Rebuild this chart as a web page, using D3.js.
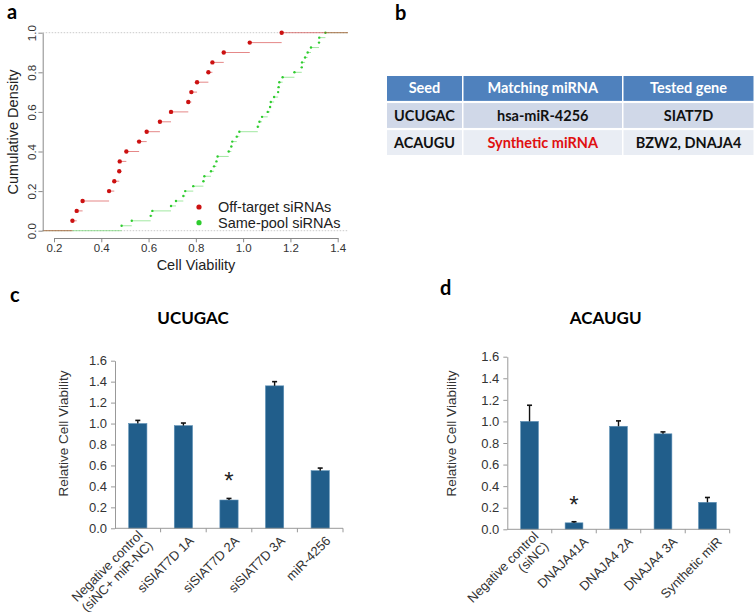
<!DOCTYPE html>
<html>
<head>
<meta charset="utf-8">
<title>Off-target siRNA viability</title>
<style>
  body { margin: 0; background: #fff; }
  text { font-family: "Liberation Sans", Arial, sans-serif; }
  .bold { font-family: Lato, "Open Sans", sans-serif; font-weight: 700; }
</style>
</head>
<body>
<script src="https://d3js.org/d3.v7.min.js"></script>
<script>

// panel a: cell viability of each siRNA (sorted, for the ECDF)
var offTarget = [0.278, 0.296, 0.321, 0.433, 0.455, 0.476, 0.478, 0.506, 0.560, 0.592,
                 0.648, 0.695, 0.768, 0.781, 0.805, 0.853, 0.870, 0.918, 1.028, 1.163];
var samePool = [0.486, 0.529, 0.609, 0.616, 0.695, 0.716, 0.747, 0.755, 0.789, 0.832,
                0.836, 0.864, 0.877, 0.887, 0.892, 0.939, 0.950, 0.954, 0.973, 0.984,
                1.062, 1.069, 1.080, 1.104, 1.114, 1.117, 1.131, 1.148, 1.150, 1.153,
                1.167, 1.217, 1.248, 1.249, 1.262, 1.273, 1.287, 1.321, 1.322, 1.348];
var xTicksA = [0.2, 0.4, 0.6, 0.8, 1.0, 1.2, 1.4];
var yTicksA = [0, 0.2, 0.4, 0.6, 0.8, 1.0];
var legendA = ["Off-target siRNAs", "Same-pool siRNAs"];

// panel b: table
var tableHeader = ["Seed", "Matching miRNA", "Tested gene"];
var tableRows = [
  ["UCUGAC", "hsa-miR-4256", "SIAT7D"],
  ["ACAUGU", "Synthetic miRNA", "BZW2, DNAJA4"]
];

// panel c
var cCats = ["Negative control|(siNC+ miR-NC)", "siSIAT7D 1A", "siSIAT7D 2A", "siSIAT7D 3A", "miR-4256"];
var cVals = [1.00, 0.98, 0.27, 1.36, 0.55];
var cErr  = [0.03, 0.025, 0.015, 0.04, 0.025];

// panel d
var dCats = ["Negative control|(siNC)", "DNAJA41A", "DNAJA4 2A", "DNAJA4 3A", "Synthetic miR"];
var dVals = [1.00, 0.06, 0.955, 0.885, 0.25];
var dErr  = [0.15, 0.01, 0.05, 0.018, 0.045];

var yTicksBar = [0, 0.2, 0.4, 0.6, 0.8, 1.0, 1.2, 1.4, 1.6];

var svg = d3.select("body").append("svg")
  .attr("width", 756).attr("height", 612);

// panel letters
function letter(t, x, y) {
  svg.append("text").attr("class", "bold").attr("x", x).attr("y", y)
    .attr("font-size", 20).attr("fill", "#000").text(t);
}
letter("a", 7, 19);
letter("b", 395, 20);
letter("c", 10, 302);
letter("d", 440, 295);

// ---------- panel a ----------
var gA = svg.append("g");
var xA = d3.scaleLinear().domain([0.2, 1.4]).range([54, 337.7]);
var yA = d3.scaleLinear().domain([0, 1]).range([230.7, 32.7]);
var xLo = xA.invert(42.7), xHi = xA.invert(348);

// dotted reference lines at 0 and 1
gA.selectAll(".ref").data([0, 1]).enter().append("line")
  .attr("x1", xA(xLo)).attr("x2", xA(xHi))
  .attr("y1", function(d) { return yA(d); }).attr("y2", function(d) { return yA(d); })
  .attr("stroke", "#bbb").attr("stroke-width", 0.8).attr("stroke-dasharray", "1.5,1.5");

function ecdf(vals, color, r, lw) {
  var n = vals.length;
  var segs = [{x0: xLo, x1: vals[0], y: 0}];
  vals.forEach(function(v, i) {
    segs.push({x0: v, x1: i < n - 1 ? vals[i + 1] : xHi, y: (i + 1) / n});
  });
  var g = gA.append("g");
  g.selectAll("line").data(segs).enter().append("line")
    .attr("x1", function(d) { return xA(d.x0); })
    .attr("x2", function(d) { return xA(d.x1); })
    .attr("y1", function(d) { return yA(d.y); })
    .attr("y2", function(d) { return yA(d.y); })
    .attr("stroke", color).attr("stroke-opacity", 0.5).attr("stroke-width", lw);
  g.selectAll("circle").data(vals).enter().append("circle")
    .attr("cx", function(d) { return xA(d); })
    .attr("cy", function(d, i) { return yA((i + 1) / n); })
    .attr("r", r).attr("fill", color);
}
ecdf(samePool, "#2ecc2e", 1.2, 0.9);
ecdf(offTarget, "#cc1111", 2.2, 1.0);

var axA = gA.append("g").attr("transform", "translate(0,238)")
  .call(d3.axisBottom(xA).tickValues(xTicksA).tickSize(4.3).tickPadding(2).tickSizeOuter(0)
    .tickFormat(d3.format(".1f")));
var ayA = gA.append("g").attr("transform", "translate(42.7,0)")
  .call(d3.axisLeft(yA).tickValues(yTicksA).tickSize(4.3).tickSizeOuter(0)
    .tickFormat(d3.format(".1f")));
[axA, ayA].forEach(function(a) {
  a.select(".domain").attr("stroke", "#888");
  a.selectAll(".tick line").attr("stroke", "#888");
  a.selectAll("text").attr("font-size", 11.5).attr("fill", "#333")
    .attr("font-family", "Liberation Sans, Arial, sans-serif");
});
ayA.selectAll("text").attr("transform", "rotate(-90)")
  .attr("x", 0).attr("y", -7).attr("dy", 0).attr("text-anchor", "middle");

gA.append("text").attr("transform", "translate(18,132) rotate(-90)")
  .attr("text-anchor", "middle").attr("font-size", 14.5).attr("fill", "#222")
  .text("Cumulative Density");
gA.append("text").attr("x", 196).attr("y", 270).attr("text-anchor", "middle")
  .attr("font-size", 14.5).attr("fill", "#222").text("Cell Viability");

var legColors = ["#cc1111", "#2ecc2e"];
var leg = gA.selectAll(".leg").data(legendA).enter().append("g")
  .attr("transform", function(d, i) { return "translate(199," + (207 + i * 15.7) + ")"; });
leg.append("circle").attr("r", 2.6).attr("fill", function(d, i) { return legColors[i]; });
leg.append("text").attr("x", 19).attr("y", 5).attr("font-size", 14.5).attr("fill", "#222")
  .text(function(d) { return d; });

// ---------- panel b: table ----------
var gB = svg.append("g");
var colW = [76.5, 160, 131.5];
var colX = [387].concat(Array.from(d3.cumsum(colW), function(c) { return 387 + c; }));
var rowY = d3.scaleBand().domain(d3.range(tableRows.length + 1)).range([76, 155]).paddingInner(0.08);
var rowFill = ["#4f81bd", "#d0d8e8", "#e9edf4"];
var allRows = [tableHeader].concat(tableRows);
allRows.forEach(function(row, ri) {
  row.forEach(function(cell, ci) {
    gB.append("rect").attr("x", colX[ci]).attr("y", rowY(ri))
      .attr("width", colW[ci] - 1.5).attr("height", rowY.bandwidth())
      .attr("fill", rowFill[ri]);
    gB.append("text").attr("class", "bold")
      .attr("x", colX[ci] + (colW[ci] - 1.5) / 2)
      .attr("y", rowY(ri) + rowY.bandwidth() / 2 + 5)
      .attr("text-anchor", "middle").attr("font-size", 14.5)
      .attr("fill", ri === 0 ? "#fff" : (cell === "Synthetic miRNA" ? "#e01010" : "#111"))
      .text(cell);
  });
});

// ---------- panels c and d ----------
function barPanel(o) {
  var g = svg.append("g");
  var x = d3.scaleBand().domain(o.cats).range(o.xr).paddingInner(0.6).paddingOuter(0.3);
  var y = d3.scaleLinear().domain([0, 1.6]).range(o.yr);

  g.append("text").attr("class", "bold").attr("x", o.titleX).attr("y", 324)
    .attr("text-anchor", "middle").attr("font-size", 17).text(o.title);

  var ay = g.append("g").attr("transform", "translate(" + o.xr[0] + ",0)")
    .call(d3.axisLeft(y).tickValues(yTicksBar).tickSize(4).tickPadding(4).tickSizeOuter(0)
      .tickFormat(d3.format(".1f")));
  ay.select(".domain").attr("stroke", "#999");
  ay.selectAll(".tick line").attr("stroke", "#999");
  ay.selectAll("text").attr("font-size", 13).attr("fill", "#333")
    .attr("font-family", "Liberation Sans, Arial, sans-serif");

  g.append("text")
    .attr("transform", "translate(" + o.yTitleX + ",433.5) rotate(-90)")
    .attr("text-anchor", "middle").attr("font-size", 13.5).attr("fill", "#333")
    .text("Relative Cell Viability");

  // bars
  g.selectAll(".bar").data(o.vals).enter().append("rect")
    .attr("x", function(d, i) { return x(o.cats[i]); })
    .attr("y", function(d) { return y(d); })
    .attr("width", x.bandwidth())
    .attr("height", function(d) { return y(0) - y(d); })
    .attr("fill", "#215e8b").attr("stroke", "#5c8fb5").attr("stroke-width", 0.6);

  // error bars (upper half)
  var eb = g.selectAll(".err").data(o.vals).enter().append("g");
  eb.append("line")
    .attr("x1", function(d, i) { return x(o.cats[i]) + x.bandwidth() / 2; })
    .attr("x2", function(d, i) { return x(o.cats[i]) + x.bandwidth() / 2; })
    .attr("y1", function(d) { return y(d); })
    .attr("y2", function(d, i) { return y(d + o.errs[i]); })
    .attr("stroke", "#111").attr("stroke-width", 1.4);
  eb.append("line")
    .attr("x1", function(d, i) { return x(o.cats[i]) + x.bandwidth() / 2 - 2.5; })
    .attr("x2", function(d, i) { return x(o.cats[i]) + x.bandwidth() / 2 + 2.5; })
    .attr("y1", function(d, i) { return y(d + o.errs[i]); })
    .attr("y2", function(d, i) { return y(d + o.errs[i]); })
    .attr("stroke", "#111").attr("stroke-width", 1.6);

  // x axis with ticks between categories
  g.append("line").attr("x1", o.xr[0]).attr("x2", o.xr[1])
    .attr("y1", y(0)).attr("y2", y(0)).attr("stroke", "#999");
  var bounds = o.cats.map(function(c) { return x(c) + x.bandwidth() / 2 + x.step() / 2; });
  g.selectAll(".xt").data(bounds).enter().append("line")
    .attr("x1", function(d) { return d; }).attr("x2", function(d) { return d; })
    .attr("y1", y(0)).attr("y2", y(0) + 4).attr("stroke", "#999");

  // rotated category labels
  var lab = g.selectAll(".xl").data(o.cats).enter().append("text")
    .attr("transform", function(d) {
      return "translate(" + (x(d) + x.bandwidth() / 2 + o.labDx) + "," + (y(0) + 10) + ") rotate(-45)";
    })
    .attr("text-anchor", "end").attr("font-size", 13).attr("fill", "#333");
  lab.each(function(d) {
    var parts = d.split("|");
    var t = d3.select(this);
    parts.forEach(function(p, k) {
      t.append("tspan").attr("x", 0)
        .attr("dy", k === 0 ? (parts.length > 1 ? "-0.25em" : "0.35em") : "1.1em")
        .text(p);
    });
  });

  // significance star
  g.append("text").attr("x", x(o.cats[o.star]) + x.bandwidth() / 2)
    .attr("y", y(o.vals[o.star] + o.errs[o.star]) - 9)
    .attr("text-anchor", "middle").attr("font-size", 24).attr("fill", "#222").text("*");
}

barPanel({cats: cCats, vals: cVals, errs: cErr, star: 2, title: "UCUGAC", titleX: 193,
          xr: [115, 343], yr: [528.3, 360.7], yTitleX: 68, labDx: 8});
barPanel({cats: dCats, vals: dVals, errs: dErr, star: 1, title: "ACAUGU", titleX: 605.7,
          xr: [507.3, 729.7], yr: [529.3, 356.7], yTitleX: 456, labDx: 12});

</script>
</body>
</html>
